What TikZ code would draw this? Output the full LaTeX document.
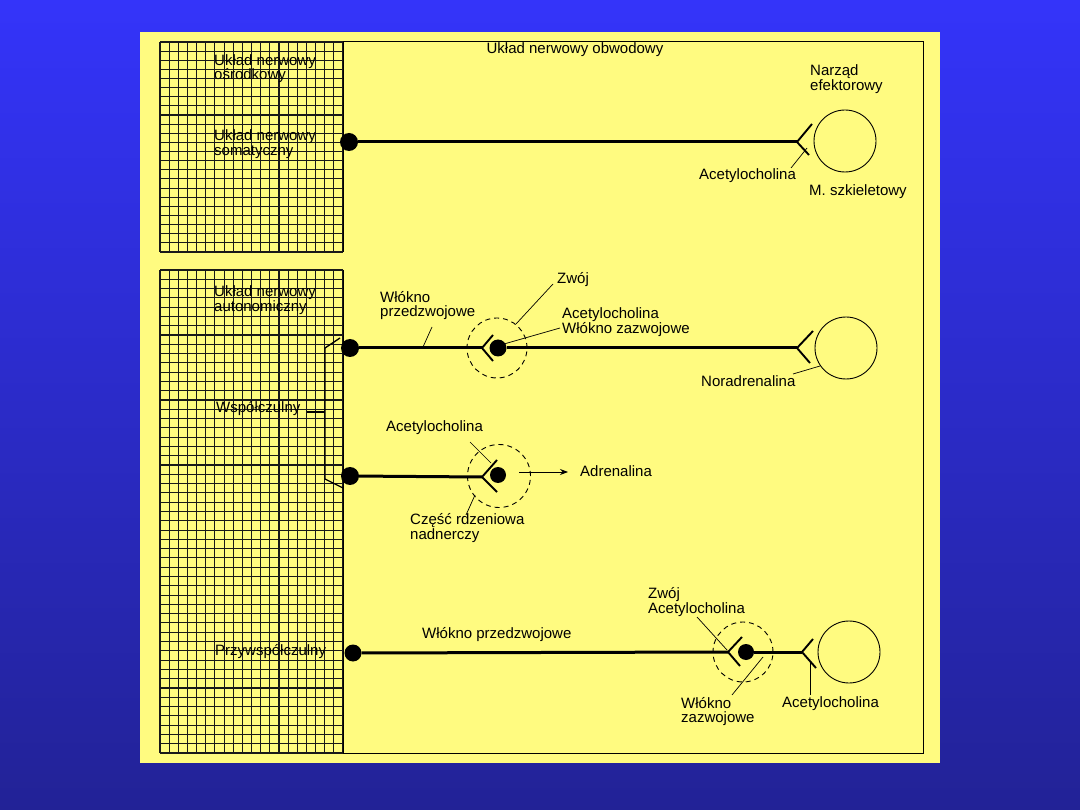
\documentclass[tikz,border=0pt]{standalone}
\usepackage{fontspec}
\setmainfont{Liberation Sans}
\usetikzlibrary{arrows.meta}
\definecolor{bgtop}{RGB}{52,52,250}
\definecolor{bgbot}{RGB}{34,34,150}
\definecolor{paper}{RGB}{255,251,128}
\begin{document}
\begin{tikzpicture}[x=1pt,y=-1pt,
  lbl/.style={inner sep=0pt, anchor=west, align=left, font=\fontsize{15}{14.5}\selectfont},
  nerve/.style={line width=3pt, black},
  arm/.style={line width=1.9pt, black},
  lead/.style={line width=0.7pt, black},
  dot/.style={circle, fill=black, minimum size=18pt, inner sep=0pt},
  gdot/.style={circle, fill=black, minimum size=17pt, inner sep=0pt},
  organ/.style={circle, draw, line width=0.9pt, minimum size=62pt, inner sep=0pt},
  ganglion/.style={circle, draw, dash pattern=on 5pt off 4pt, line width=0.9pt, minimum size=60pt, inner sep=0pt},
  gridl/.style={line width=1.1pt, black!90}
]
\useasboundingbox (0,0) rectangle (1080,810);
\fill[top color=bgtop, bottom color=bgbot] (0,0) rectangle (1080,810);
\fill[paper] (140,32) rectangle (940,763);

% grid blocks
\foreach \i in {0,...,20} {
  \draw[gridl] ({160+\i*9.15},42) -- ({160+\i*9.15},252);
  \draw[gridl] ({160+\i*9.15},270) -- ({160+\i*9.15},753);
}
\foreach \j in {0,...,23} \draw[gridl] (160,{42+\j*9.13}) -- (343,{42+\j*9.13});
\foreach \j in {0,...,52} \draw[gridl] (160,{270+\j*9.288}) -- (343,{270+\j*9.288});

% outer frame
\draw[line width=1pt] (343,42) -- (923,42) -- (923,753) -- (343,753);
\draw[line width=1pt] (343,42) -- (343,252);
\draw[line width=1pt] (343,270) -- (343,753);

% texts left
\node[lbl] (cns) at (214,68.5) {Układ nerwowy\\ośrodkowy};
\node[lbl] (som) at (214,144) {Układ nerwowy\\somatyczny};
\node[lbl] (aut) at (214,300) {Układ nerwowy\\autonomiczny};
\node[lbl] (sym) at (216,409) {Współczulny};
\node[lbl] (par) at (215,652) {Przywspółczulny};
\node[lbl, anchor=center] (pns) at (575,50) {Układ nerwowy obwodowy};
\node[lbl] (eff) at (810,79) {Narząd\\efektorowy};

% ---- somatic row
\node[dot] (s1) at (349,142) {};
\coordinate (sf) at (797,142);
\coordinate (sfu) at (812,124);
\coordinate (sfd) at (809,155);
\draw[nerve] (s1) -- (sf);
\draw[arm] (sfu) -- (sf) -- (sfd);
\node[organ] (so) at (845,141) {};
\node[lbl] (sach) at (699,176) {Acetylocholina};
\node[lbl] (msk) at (809,192) {M. szkieletowy};
\coordinate (sl1) at (807,148);
\coordinate (sl2) at (791,168);
\draw[lead] (sl1) -- (sl2);

% ---- sympathetic row 1
\node[dot] (a1) at (350,348) {};
\coordinate (af) at (482,348);
\coordinate (afu) at (493,335);
\coordinate (afd) at (493,361);
\draw[nerve] (a1) -- (af);
\draw[arm] (afu) -- (af) -- (afd);
\node[ganglion] (ag) at (497,348) {};
\node[gdot] (ad) at (498,348) {};
\coordinate (rf) at (797,348);
\coordinate (rfu) at (813,331);
\coordinate (rfd) at (810,363);
\draw[nerve] (ad) -- (rf);
\draw[arm] (rfu) -- (rf) -- (rfd);
\node[organ] (ao) at (846,348) {};
\node[lbl] (wp) at (380,305.5) {Włókno\\przedzwojowe};
\coordinate (wpl1) at (432,327);
\coordinate (wpl2) at (423,347);
\draw[lead] (wpl1) -- (wpl2);
\node[lbl] (zw) at (557,280) {Zwój};
\coordinate (zwl) at (553,284);
\coordinate (zwc) at (516,324);
\draw[lead] (zwl) -- (zwc);
\node[lbl] (aw) at (562,322) {Acetylocholina\\Włókno zazwojowe};
\coordinate (awl1) at (560,328);
\coordinate (awl2) at (504,344);
\draw[lead] (awl1) -- (awl2);
\node[lbl] (nor) at (701,381) {Noradrenalina};
\coordinate (norl1) at (820,366);
\coordinate (norl2) at (793,374);
\draw[lead] (norl1) -- (norl2);

% sympathetic bracket
\coordinate (b1) at (340,338);
\coordinate (b2) at (325,348);
\coordinate (b3) at (325,479);
\coordinate (b4) at (343,488);
\coordinate (bt1) at (307,412);
\coordinate (bt2) at (325,412);
\draw[line width=1.3pt] (b1) -- (b2) -- (b3) -- (b4);
\draw[line width=1.3pt] (bt1) -- (bt2);

% ---- sympathetic row 2 (adrenal medulla)
\node[dot] (m1) at (350,476) {};
\coordinate (mf) at (482,477);
\coordinate (mfu) at (497,460);
\coordinate (mfd) at (497,492);
\draw[nerve] (m1) -- (mf);
\draw[arm] (mfu) -- (mf) -- (mfd);
\node[ganglion, minimum size=63pt] (mg) at (499,476) {};
\node[gdot, minimum size=16pt] (md) at (498,475) {};
\coordinate (ma1) at (519,472);
\node[lbl] (adr) at (580,471) {Adrenalina};
\coordinate (ma2) at (568,472);
\draw[line width=0.8pt, -{Stealth[length=8pt,width=6pt]}] (ma1) -- (ma2);
\node[lbl] (mach) at (386,428) {Acetylocholina};
\coordinate (machl1) at (470,442);
\coordinate (machl2) at (491,463);
\draw[lead] (machl1) -- (machl2);
\node[lbl] (rdz) at (410,528) {Część rdzeniowa\\nadnerczy};
\coordinate (rdzl1) at (475,495);
\coordinate (rdzl2) at (466,515);
\draw[lead] (rdzl1) -- (rdzl2);

% ---- parasympathetic row
\node[dot, minimum size=17pt] (p1) at (353,653) {};
\coordinate (pf) at (728,652);
\coordinate (pfu) at (742,637);
\coordinate (pfd) at (740,666);
\draw[nerve] (p1) -- (pf);
\draw[arm] (pfu) -- (pf) -- (pfd);
\node[ganglion] (pg) at (743,652) {};
\node[gdot, minimum size=16pt] (pd) at (746,652) {};
\coordinate (qf) at (802,652);
\coordinate (qfu) at (813,639);
\coordinate (qfd) at (816,668);
\draw[nerve] (pd) -- (qf);
\draw[arm] (qfu) -- (qf) -- (qfd);
\node[organ] (po) at (849,652) {};
\node[lbl] (pwp) at (422,635) {Włókno przedzwojowe};
\node[lbl] (pza) at (648,602) {Zwój\\Acetylocholina};
\coordinate (pzal1) at (697,617);
\coordinate (pzal2) at (727,650);
\draw[lead] (pzal1) -- (pzal2);
\node[lbl] (pwz) at (681,711.5) {Włókno\\zazwojowe};
\coordinate (pwzl1) at (732,695);
\coordinate (pwzl2) at (763,657);
\draw[lead] (pwzl1) -- (pwzl2);
\node[lbl] (pach) at (782,704) {Acetylocholina};
\coordinate (pachl1) at (810,663);
\coordinate (pachl2) at (810,695);
\draw[lead] (pachl1) -- (pachl2);
\end{tikzpicture}
\end{document}
